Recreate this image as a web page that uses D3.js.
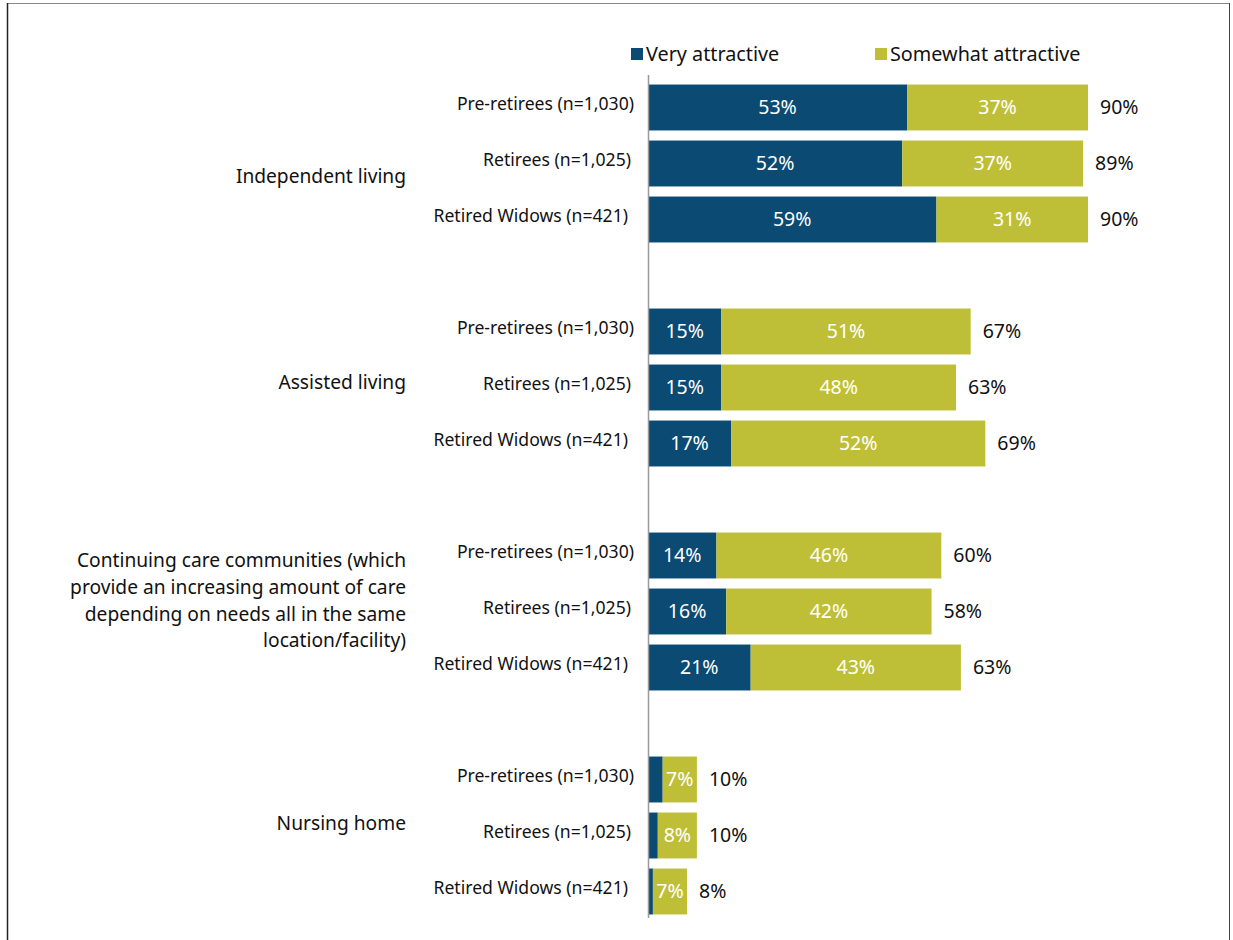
<!DOCTYPE html>
<html><head><meta charset="utf-8">
<script src="https://cdn.jsdelivr.net/npm/d3@7"></script>
<style>body{margin:0;background:#fff}svg{display:block}text{font-family:"Noto Sans",sans-serif}</style>
</head><body><svg id="c" width="1233" height="940"></svg>
<script>
const groups = ["Independent living","Assisted living","Continuing care communities (which provide an increasing amount of care depending on needs all in the same location/facility)","Nursing home"];
const groupLines = [["Independent living"],["Assisted living"],["Continuing care communities (which","provide an increasing amount of care","depending on needs all in the same","location/facility)"],["Nursing home"]];
const segments = ["Pre-retirees (n=1,030)","Retirees (n=1,025)","Retired Widows (n=421)"];
const seriesNames = ["Very attractive","Somewhat attractive"];
const veryAttractive = [53,52,59, 15,15,17, 14,16,21, 3,2,1];
const somewhatAttractive = [37,37,31, 51,48,52, 46,42,43, 7,8,7];
const veryLabels = ["53%","52%","59%","15%","15%","17%","14%","16%","21%",null,null,null];
const somewhatLabels = ["37%","37%","31%","51%","48%","52%","46%","42%","43%","7%","8%","7%"];
const totalLabels = ["90%","89%","90%","67%","63%","69%","60%","58%","63%","10%","10%","8%"];

const colors = ["#0a4a73","#bfbf37"];
const svg = d3.select("#c");

// frame
svg.append("line").attr("x1",7).attr("x2",1229).attr("y1",3.5).attr("y2",3.5).attr("stroke","#888").attr("stroke-width",1);
svg.append("line").attr("x1",7.5).attr("x2",7.5).attr("y1",3).attr("y2",940).attr("stroke","#222").attr("stroke-width",1.5);
svg.append("line").attr("x1",1229.5).attr("x2",1229.5).attr("y1",3).attr("y2",940).attr("stroke","#444").attr("stroke-width",1);

// rows with spacer slots between groups
const rows = [];
groups.forEach((g,gi)=>{
  segments.forEach((s,si)=>rows.push({key:gi+"-"+si,g:gi,s:si,i:gi*3+si}));
  if(gi<groups.length-1) rows.push({key:"gap"+gi,spacer:true});
});
const y = d3.scaleBand().domain(rows.map(r=>r.key)).range([79.5,79.5+56*rows.length]).paddingInner(0.18).paddingOuter(0.09);
const x = d3.scaleLinear().domain([0,90]).range([648,1088]);

const data = rows.filter(r=>!r.spacer).map(r=>({...r,v:veryAttractive[r.i],sw:somewhatAttractive[r.i]}));

const bars = svg.append("g");
bars.selectAll("rect.v").data(data).join("rect").attr("class","v")
  .attr("x",x(0)).attr("y",d=>y(d.key)).attr("width",d=>x(d.v)-x(0)).attr("height",y.bandwidth()).attr("fill",colors[0]);
bars.selectAll("rect.s").data(data).join("rect").attr("class","s")
  .attr("x",d=>x(d.v)).attr("y",d=>y(d.key)).attr("width",d=>x(d.v+d.sw)-x(d.v)).attr("height",y.bandwidth()).attr("fill",colors[1]);

const lab = svg.append("g").attr("font-size",19.5);
lab.selectAll("text.vl").data(data.filter(d=>veryLabels[d.i])).join("text").attr("class","vl")
  .attr("x",d=>(x(0)+x(d.v))/2).attr("y",d=>y(d.key)+y.bandwidth()/2).attr("dy","0.35em")
  .attr("text-anchor","middle").attr("fill","#fff").text(d=>veryLabels[d.i]);
lab.selectAll("text.sl").data(data).join("text").attr("class","sl")
  .attr("x",d=>(x(d.v)+x(d.v+d.sw))/2).attr("y",d=>y(d.key)+y.bandwidth()/2).attr("dy","0.35em")
  .attr("text-anchor","middle").attr("fill","#fff").text(d=>somewhatLabels[d.i]);
lab.selectAll("text.tl").data(data).join("text").attr("class","tl")
  .attr("x",d=>x(d.v+d.sw)+12).attr("y",d=>y(d.key)+y.bandwidth()/2).attr("dy","0.35em")
  .attr("fill","#111").text(d=>totalLabels[d.i]);

// axis line
svg.append("line").attr("x1",648.5).attr("x2",648.5).attr("y1",75).attr("y2",918).attr("stroke","#999").attr("stroke-width",1.5);

// row labels
const rowRight = [634,631,628];
svg.append("g").attr("font-size",17.6).selectAll("text").data(data).join("text")
  .attr("x",d=>rowRight[d.s]).attr("y",d=>y(d.key)+y.bandwidth()/2-4).attr("dy","0.35em")
  .attr("text-anchor","end").attr("fill","#111").text(d=>segments[d.s]);

// group labels
const groupOffset = [12.5,-5.5,-11,-12.5];
const gl = svg.append("g").attr("font-size",19.2).attr("fill","#111");
groupLines.forEach((lines,gi)=>{
  const cy = y(gi+"-1")+y.bandwidth()/2 + groupOffset[gi];
  const lh = 26.7;
  lines.forEach((ln,li)=>{
    gl.append("text").attr("x",406).attr("y",cy+(li-(lines.length-1)/2)*lh).attr("dy","0.35em")
      .attr("text-anchor","end").text(ln);
  });
});

// legend
const leg = svg.append("g").attr("font-size",19.8);
const legX = [631,875];
seriesNames.forEach((n,i)=>{
  leg.append("rect").attr("x",legX[i]).attr("y",48).attr("width",12).attr("height",12).attr("fill",colors[i]);
  leg.append("text").attr("x",legX[i]+15).attr("y",54).attr("dy","0.35em").attr("fill","#111").text(n);
});
</script></body></html>
